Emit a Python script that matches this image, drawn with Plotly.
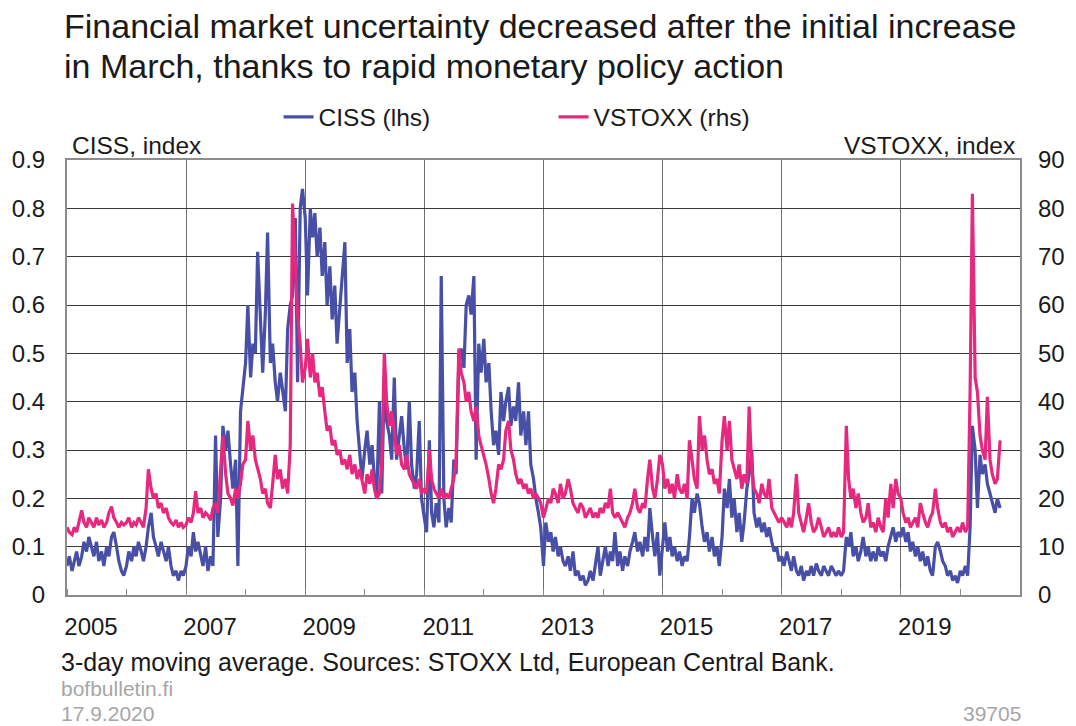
import pandas as pd
import plotly.graph_objects as go

# CISS, index (lhs) - semi-monthly readings, one row per year 2005..2020
ciss = [
    0.06, 0.08, 0.05, 0.07, 0.09, 0.06, 0.08, 0.11, 0.09, 0.12, 0.10, 0.08, 0.11, 0.07, 0.09, 0.06, 0.10, 0.08, 0.12, 0.13, 0.10, 0.07, 0.05, 0.04,
    0.06, 0.09, 0.07, 0.10, 0.08, 0.11, 0.09, 0.07, 0.10, 0.14, 0.17, 0.12, 0.10, 0.08, 0.11, 0.09, 0.07, 0.10, 0.06, 0.04, 0.05, 0.03, 0.05, 0.04,
    0.06, 0.10, 0.08, 0.13, 0.09, 0.11, 0.08, 0.06, 0.10, 0.05, 0.08, 0.06, 0.33, 0.12, 0.20, 0.35, 0.30, 0.34, 0.27, 0.22, 0.28, 0.06, 0.38, 0.42,
    0.48, 0.60, 0.45, 0.52, 0.50, 0.71, 0.55, 0.46, 0.58, 0.75, 0.48, 0.52, 0.44, 0.40, 0.46, 0.42, 0.38, 0.55, 0.60, 0.62, 0.78, 0.44, 0.80, 0.84,
    0.78, 0.62, 0.80, 0.74, 0.79, 0.70, 0.76, 0.66, 0.73, 0.60, 0.68, 0.57, 0.64, 0.52, 0.60, 0.66, 0.73, 0.48, 0.55, 0.42, 0.46, 0.36, 0.30, 0.24,
    0.30, 0.34, 0.27, 0.31, 0.24, 0.20, 0.40, 0.21, 0.45, 0.36, 0.33, 0.28, 0.45, 0.28, 0.33, 0.37, 0.30, 0.26, 0.40, 0.27, 0.22, 0.25, 0.36, 0.20,
    0.16, 0.13, 0.32, 0.17, 0.14, 0.19, 0.15, 0.66, 0.20, 0.14, 0.18, 0.15, 0.28, 0.25, 0.49, 0.51, 0.47, 0.60, 0.62, 0.58, 0.66, 0.28, 0.52, 0.46,
    0.53, 0.44, 0.48, 0.38, 0.31, 0.34, 0.29, 0.42, 0.36, 0.40, 0.43, 0.35, 0.39, 0.36, 0.44, 0.33, 0.38, 0.31, 0.38, 0.27, 0.24, 0.20, 0.17, 0.14,
    0.06, 0.15, 0.11, 0.13, 0.09, 0.12, 0.08, 0.10, 0.07, 0.06, 0.08, 0.05, 0.09, 0.04, 0.05, 0.03, 0.04, 0.02, 0.03, 0.05, 0.03, 0.06, 0.10, 0.04,
    0.07, 0.10, 0.06, 0.09, 0.07, 0.13, 0.06, 0.09, 0.05, 0.08, 0.06, 0.09, 0.11, 0.13, 0.09, 0.11, 0.08, 0.12, 0.09, 0.18, 0.12, 0.08, 0.13, 0.04,
    0.10, 0.15, 0.09, 0.12, 0.08, 0.10, 0.07, 0.09, 0.06, 0.08, 0.07, 0.12, 0.20, 0.17, 0.21, 0.19, 0.14, 0.11, 0.13, 0.09, 0.12, 0.08, 0.10, 0.06,
    0.12, 0.22, 0.18, 0.24, 0.16, 0.20, 0.13, 0.17, 0.11, 0.15, 0.22, 0.25, 0.30, 0.17, 0.14, 0.16, 0.13, 0.15, 0.12, 0.14, 0.11, 0.09, 0.10, 0.07,
    0.08, 0.06, 0.09, 0.07, 0.05, 0.08, 0.05, 0.04, 0.06, 0.03, 0.05, 0.04, 0.06, 0.04, 0.065, 0.05, 0.04, 0.06, 0.05, 0.04, 0.06, 0.05, 0.04, 0.05,
    0.04, 0.05, 0.12, 0.10, 0.13, 0.08, 0.10, 0.07, 0.09, 0.12, 0.08, 0.10, 0.07, 0.09, 0.07, 0.10, 0.08, 0.09, 0.07, 0.10, 0.12, 0.14, 0.11, 0.13,
    0.12, 0.14, 0.11, 0.13, 0.09, 0.11, 0.08, 0.10, 0.07, 0.09, 0.06, 0.08, 0.05, 0.04, 0.10, 0.11, 0.09, 0.07, 0.06, 0.04, 0.05, 0.03, 0.04, 0.025,
    0.05, 0.04, 0.06, 0.04, 0.14, 0.35, 0.30, 0.18, 0.29, 0.25, 0.27, 0.23, 0.21, 0.19, 0.17, 0.20, 0.18,
]

# VSTOXX, index (rhs)
vstoxx = [
    14, 13, 12.5, 14, 13, 15, 17.5, 15, 14, 16, 15, 14, 16, 14.5, 15.5, 14, 15, 17, 18.3, 16, 15, 14, 15, 14.5,
    15, 16, 14, 15, 14.5, 16, 15, 14, 18, 26, 22, 20, 21, 18, 19, 17, 18, 16, 15, 14.5, 15.5, 14, 15, 14,
    14.5, 16, 15, 17, 21.5, 17, 18, 16, 17, 16.5, 15.5, 18, 19, 17, 26, 33, 25, 21, 20, 18.5, 22, 20, 23, 27,
    28, 36, 30, 33, 28, 26, 24, 21, 22, 19, 18, 23, 29, 24, 26, 22, 24, 21, 31, 81, 70, 58, 52, 44,
    47, 53, 45, 50, 44, 46, 41, 43, 38, 34, 35, 31, 32, 29, 30, 27, 28, 26, 29, 25, 27, 24, 26, 24,
    21, 25, 23, 26, 22, 20, 21, 27, 50, 40, 35, 38, 34, 29, 31, 27, 26, 29, 25, 24, 23, 22, 24, 21,
    22, 21, 30, 24, 22, 21, 20, 22, 20, 21, 20, 22, 24, 28, 51, 46, 44, 40, 42, 38, 36, 39, 33, 31,
    29, 27, 24, 21, 19, 22, 27, 26, 28, 34, 36, 30, 28, 25, 23, 24, 22, 23, 21, 22, 20, 21, 20, 19,
    16, 18, 20, 19, 22, 21, 19, 23, 20, 21, 24, 22, 19, 18, 17, 19, 18, 16, 17, 18, 16, 17, 16, 18,
    17, 19, 18, 22, 17, 16, 17, 16, 15, 14, 16, 17, 19, 22, 18, 17, 19, 18, 24, 28, 22, 20, 24, 29,
    27, 22, 24, 21, 23, 20, 25, 22, 21, 23, 20, 32, 28, 24, 22, 37, 30, 33, 28, 25, 26, 23, 24, 21,
    32, 37, 30, 36, 28, 26, 24, 27, 22, 25, 23, 39, 26, 22, 21, 19, 23, 21, 20, 24, 18, 17, 16, 15,
    16, 15, 14, 16, 14, 17, 25, 17, 15, 13, 16, 19, 15, 13, 14, 16, 14, 12, 13, 14, 12, 13, 12, 14,
    12, 13, 35, 24, 20, 22, 18, 21, 17, 15, 16, 19, 14, 15, 13, 16, 14, 13, 20, 16, 23, 18, 24, 21,
    20, 17, 15, 16, 14, 15, 16, 14, 19, 17, 15, 14, 16, 17, 22, 18, 15, 14, 15, 13, 14, 12, 13, 14,
    13, 15, 13, 14, 42, 83, 45, 42, 33, 30, 28, 41, 28, 25, 23, 24, 32,
]

dates = pd.date_range("2005-01-01", periods=len(ciss), freq="SMS")
label_years = [str(y) for y in range(2005, 2021, 2)]
label_dates = [f"{y}-01-01" for y in label_years]

FONT = "Liberation Sans, Arial, sans-serif"
BLUE = "#474fa6"
PINK = "#e6297f"
GREY_TXT = "#a6a6a6"

fig = go.Figure()
fig.add_trace(go.Scatter(x=dates, y=ciss, name="CISS (lhs)", mode="lines",
                         line=dict(color=BLUE, width=3.2)))
fig.add_trace(go.Scatter(x=dates, y=vstoxx, name="VSTOXX (rhs)", mode="lines",
                         line=dict(color=PINK, width=3.2), yaxis="y2"))

# the page body adds an 8 px offset, so the canvas is 8 px smaller each way
fig.update_layout(
    width=1068, height=718,
    margin=dict(l=59, r=56, t=152, b=131, autoexpand=False),
    paper_bgcolor="white", plot_bgcolor="white",
    font=dict(family=FONT, size=24, color="#1a1a1a"),
    showlegend=True,
    legend=dict(orientation="h", x=0.222, y=1.099, xanchor="left", yanchor="middle",
                font=dict(size=24.5), entrywidth=230, bgcolor="rgba(0,0,0,0)"),
    xaxis=dict(
        type="date", range=["2005-01-01", "2021-01-01"],
        tickmode="array", tickvals=label_dates, ticktext=label_years,
        ticks="", ticklabelshift=24, ticklabelstandoff=9,
        showgrid=True, gridcolor="#6e6e6e", gridwidth=1,
        showline=True, linecolor="#8c8c8c", linewidth=2, mirror=True,
        minor=dict(ticks="inside", dtick="M12", tick0="2006-01-01",
                   ticklen=6, tickcolor="#8c8c8c", showgrid=False),
        zeroline=False, automargin=False,
    ),
    yaxis=dict(
        range=[0, 0.9], dtick=0.1, tick0=0,
        showgrid=True, gridcolor="#3a3a3a", gridwidth=1,
        showline=True, linecolor="#8c8c8c", linewidth=2, mirror=True,
        ticks="", ticklabelstandoff=15, zeroline=False, automargin=False,
    ),
    yaxis2=dict(
        range=[0, 90], dtick=10, tick0=0, overlaying="y", side="right",
        showgrid=False, ticks="", ticklabelstandoff=17, zeroline=False,
        automargin=False,
    ),
)

annotations = [
    dict(text="Financial market uncertainty decreased after the initial increase",
         x=0, y=1, xanchor="left", yanchor="middle", xshift=-5, yshift=134,
         font=dict(size=34)),
    dict(text="in March, thanks to rapid monetary policy action",
         x=0, y=1, xanchor="left", yanchor="middle", xshift=-5, yshift=94,
         font=dict(size=34)),
    dict(text="CISS, index", x=0, y=1, xanchor="left", yanchor="middle",
         xshift=3, yshift=15, font=dict(size=24.5)),
    dict(text="VSTOXX, index", x=1, y=1, xanchor="right", yanchor="middle",
         xshift=-3, yshift=15, font=dict(size=24.5)),
    dict(text="3-day moving average. Sources: STOXX Ltd, European Central Bank.",
         x=0, y=0, xanchor="left", yanchor="middle", xshift=-8, yshift=-67,
         font=dict(size=25)),
    dict(text="bofbulletin.fi", x=0, y=0, xanchor="left", yanchor="middle",
         xshift=-8, yshift=-93, font=dict(size=21, color=GREY_TXT)),
    dict(text="17.9.2020", x=0, y=0, xanchor="left", yanchor="middle",
         xshift=-8, yshift=-118, font=dict(size=21, color=GREY_TXT)),
    dict(text="39705", x=1, y=0, xanchor="right", yanchor="middle",
         xshift=3, yshift=-118, font=dict(size=21, color=GREY_TXT)),
]
for a in annotations:
    a.update(xref="paper", yref="paper", showarrow=False)
fig.update_layout(annotations=annotations)

fig.write_html("out.html")
